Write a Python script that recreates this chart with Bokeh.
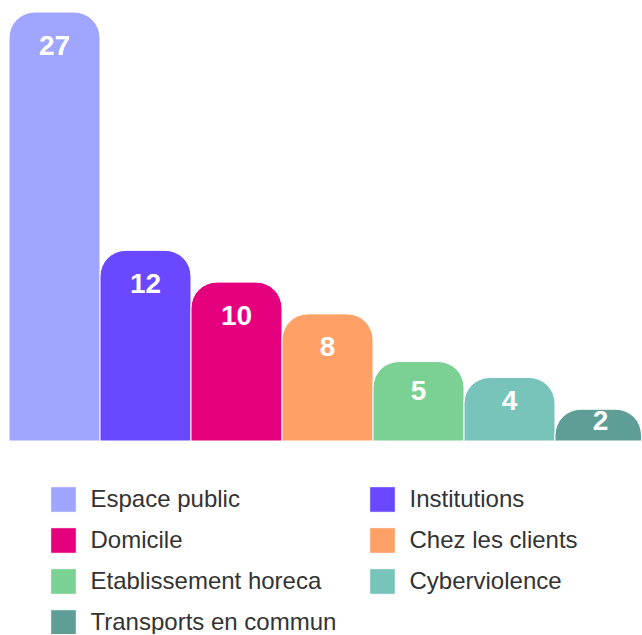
from bokeh.plotting import figure
from bokeh.models import ColumnDataSource, Range1d, Legend, LegendItem
from bokeh.core.properties import value
from bokeh.embed import file_html
from bokeh.resources import INLINE

# ---- data ----
categories = ["Espace public", "Institutions", "Domicile", "Chez les clients",
              "Etablissement horeca", "Cyberviolence", "Transports en commun"]
counts = [27, 12, 10, 8, 5, 4, 2]
colors = ["#a0a5ff", "#6948ff", "#e5007d", "#ffa066", "#7bd093", "#78c4bb", "#5f9e96"]

# ---- layout constants (pixels) ----
W, H = 641, 634
BAR_PX = 91            # width of one bar slot in px
LEFT_PX = 8.5          # first bar left edge
BASE_PX = 440.5        # baseline from top of figure
TOP_PX = 11.5          # top of tallest bar from top of figure
ppu = (BASE_PX - TOP_PX) / max(counts)   # px per unit

x0 = -0.5 - LEFT_PX / BAR_PX
x1 = x0 + W / BAR_PX
y1 = max(counts) + TOP_PX / ppu
y0 = y1 - H / ppu

idx = list(range(len(categories)))
label_y = [v - min(33 / ppu, 0.37 * v) for v in counts]
src = ColumnDataSource(dict(x=idx, top=counts, color=colors, cat=categories,
                            ly=label_y, txt=[str(v) for v in counts]))

p = figure(width=W, height=H, output_backend="svg", toolbar_location=None,
           x_range=Range1d(x0, x1), y_range=Range1d(y0, y1),
           min_border=0, outline_line_color=None, tools="")
p.xaxis.visible = False
p.yaxis.visible = False
p.grid.visible = False
p.background_fill_color = "white"
p.border_fill_color = "white"

r = p.vbar(x="x", top="top", bottom=0, width=1.0, source=src,
           fill_color="color", line_color="white", line_width=1,
           border_radius=(26, 26, 0, 0))

p.text(x="x", y="ly", text="txt", source=src, text_align="center",
       text_baseline="middle", text_color="white",
       text_font=value("Liberation Sans"), text_font_style="bold",
       text_font_size="28px")

items = [LegendItem(label=c, renderers=[r], index=i) for i, c in enumerate(categories)]
legend = Legend(items=items, orientation="horizontal", ncols=2,
                location=(46.5, -3.5),
                glyph_width=32, glyph_height=32, label_height=32,
                label_width=266, label_standoff=12, spacing=9,
                padding=0, margin=0, border_line_alpha=0,
                background_fill_alpha=0,
                label_text_font="Liberation Sans",
                label_text_font_size="24px", label_text_color="#333333")
p.add_layout(legend, "center")

open("out.html", "w").write(file_html(p, INLINE))
